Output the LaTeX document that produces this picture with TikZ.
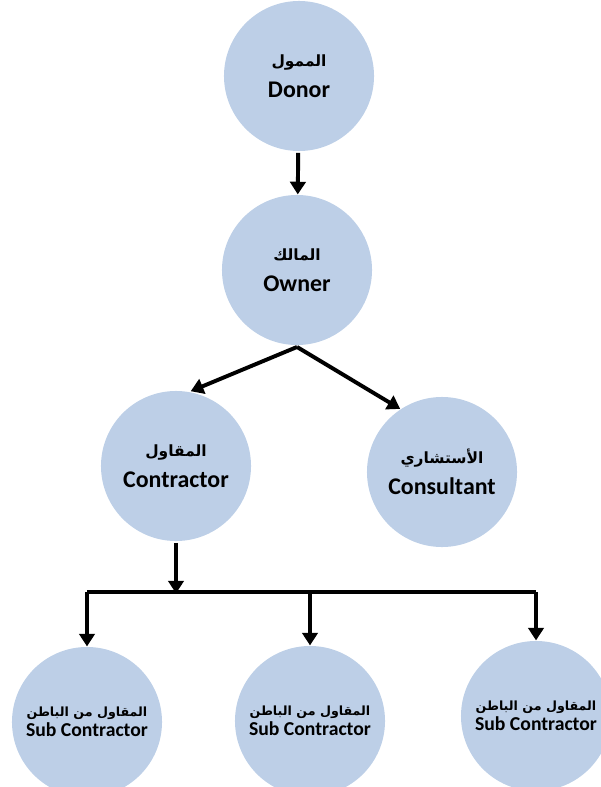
\documentclass[tikz,border=0pt]{standalone}
\usepackage{fontspec}
\setmainfont{Carlito}
\newfontfamily\arabicfont[Script=Arabic]{DejaVu Sans}
\TeXXeTstate=1
\usetikzlibrary{arrows.meta}
\definecolor{circblue}{RGB}{189,207,231}
\newcommand{\ar}[2][11]{{\arabicfont\bfseries\fontsize{#1}{12}\selectfont\beginR #2\endR}}

\begin{document}
\begin{tikzpicture}[x=0.025cm,y=-0.025cm,>={Triangle[width=11pt,length=9pt]},line width=2.8pt,
    role node/.style={circle,fill=circblue,minimum size=3.75cm,inner sep=0pt,align=center,font=\bfseries\fontsize{17}{20}\selectfont},
    sub node/.style={role node,font=\bfseries\fontsize{14}{18}\selectfont},
    arr/.style={->,shorten >=-1pt}]

    \useasboundingbox (0,0) rectangle (600,787);

    \node[role node] (donor) at (299,76) {\ar{الممول}\\[2pt]Donor};
    \node[role node] (owner) at (297,270) {\ar{المالك}\\[2pt]Owner};
    \node[role node] (contractor) at (176,466) {\ar{المقاول}\\[2pt]Contractor};
    \node[role node] (consultant) at (442,472) {\ar{الأستشاري}\\[2pt]Consultant};
    \node[sub node] (sub1) at (87,722) {\ar[9]{المقاول من الباطن}\\[-4pt]Sub Contractor};
    \node[sub node] (sub2) at (310,721) {\ar[9]{المقاول من الباطن}\\[-4pt]Sub Contractor};
    \node[sub node] (sub3) at (536,716) {\ar[9]{المقاول من الباطن}\\[-4pt]Sub Contractor};

    \draw[arr] (donor) -- (owner);
    \draw[arr] (owner.south) -- (contractor.78);
    \draw[arr] (owner.south) -- (consultant.124);

    % split to the sub contractors
    \coordinate (bar) at (176,592);
    \draw[arr] (contractor) -- (bar);
    \draw (sub1.north |- bar) -- (sub3.north |- bar);
    \foreach \s in {sub1,sub2,sub3}
        \draw[arr] (\s.north |- bar) -- (\s.north);
\end{tikzpicture}
\end{document}
